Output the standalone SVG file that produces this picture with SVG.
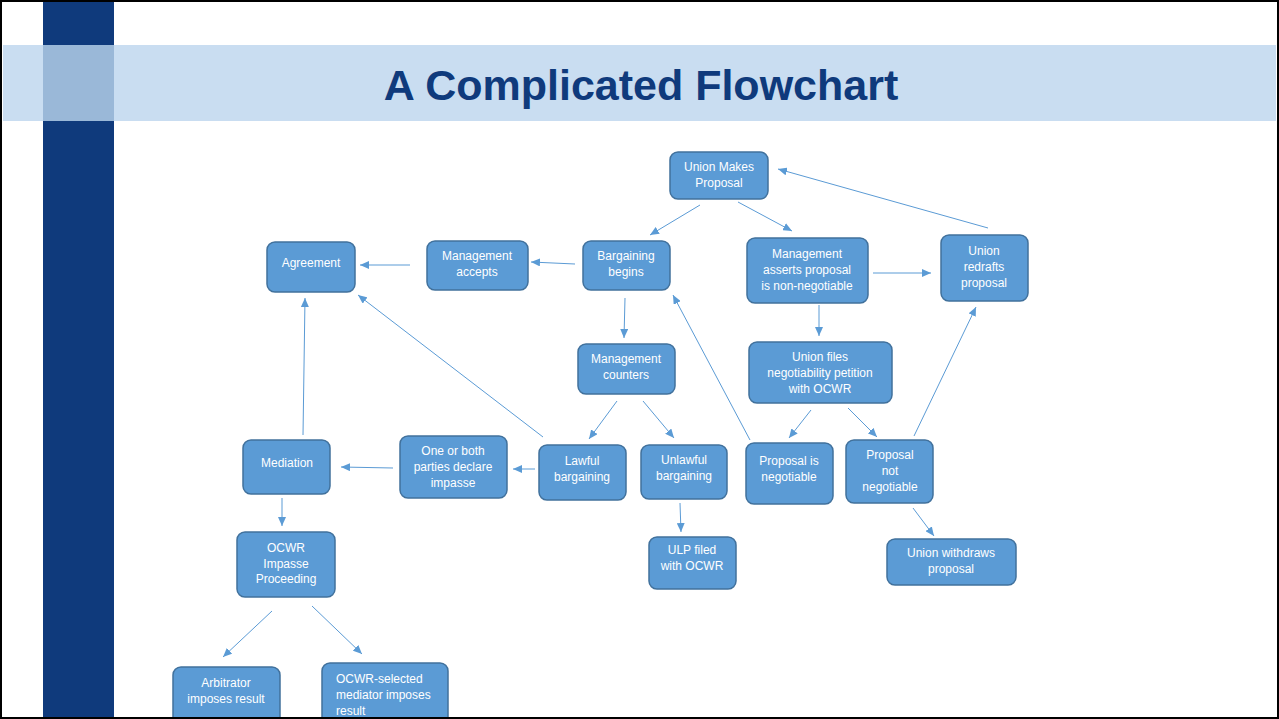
<svg xmlns="http://www.w3.org/2000/svg" width="1279" height="719" viewBox="0 0 1279 719">
<defs>
<marker id="ah" markerUnits="userSpaceOnUse" markerWidth="10" markerHeight="8" refX="9" refY="4" orient="auto">
<path d="M0,0 L9,4 L0,8 Z" fill="#5b9bd5"/>
</marker>
<style>
.n{fill:#5b9bd5;stroke:#41719c;stroke-width:1.5}
.t{font-family:"Liberation Sans",Arial,sans-serif;font-size:12px;fill:#ffffff;text-anchor:middle}
.tl{font-family:"Liberation Sans",Arial,sans-serif;font-size:12px;fill:#ffffff}
.c line{stroke:#5b9bd5;stroke-width:1;marker-end:url(#ah)}
</style>
</defs>
<rect x="0" y="0" width="1279" height="719" fill="#ffffff"/>
<rect x="3" y="45" width="1273" height="76" fill="#c9ddf1"/>
<rect x="43" y="2" width="71" height="715" fill="#0f3a7c"/>
<rect x="43" y="45" width="71" height="76" fill="#9ab8d8"/>
<text x="641" y="100" font-family="Liberation Sans,Arial,sans-serif" font-size="43" font-weight="bold" fill="#0f3a7c" text-anchor="middle">A Complicated Flowchart</text>

<g class="c" id="connectors">
<line x1="700" y1="205" x2="650" y2="235"/>
<line x1="738" y1="202" x2="792" y2="231"/>
<line x1="988" y1="228" x2="778" y2="169"/>
<line x1="873" y1="273" x2="931" y2="273"/>
<line x1="575" y1="264" x2="531" y2="262"/>
<line x1="410" y1="265" x2="360" y2="265"/>
<line x1="625" y1="298" x2="624" y2="338"/>
<line x1="819" y1="305" x2="819" y2="336"/>
<line x1="811" y1="410" x2="789" y2="438"/>
<line x1="848" y1="408" x2="877" y2="437"/>
<line x1="914" y1="436" x2="976" y2="307"/>
<line x1="750" y1="440" x2="673" y2="295"/>
<line x1="913" y1="508" x2="934" y2="536"/>
<line x1="617" y1="401" x2="589" y2="439"/>
<line x1="643" y1="401" x2="674" y2="438"/>
<line x1="543" y1="437" x2="358" y2="295"/>
<line x1="303" y1="435" x2="305" y2="298"/>
<line x1="535" y1="469" x2="513" y2="469"/>
<line x1="393" y1="468" x2="341" y2="467"/>
<line x1="282" y1="498" x2="282" y2="526"/>
<line x1="272" y1="611" x2="223" y2="657"/>
<line x1="312" y1="606" x2="362" y2="654"/>
<line x1="680" y1="503" x2="681" y2="532"/>
</g>

<g id="union-makes"><rect class="n" x="670" y="152" width="98" height="47" rx="8"/><text class="t" x="719" y="171">Union Makes</text><text class="t" x="719" y="187">Proposal</text></g>
<g id="agreement"><rect class="n" x="267" y="242" width="88" height="50" rx="8"/><text class="t" x="311" y="267">Agreement</text></g>
<g id="mgmt-accepts"><rect class="n" x="427" y="241" width="101" height="49" rx="8"/><text class="t" x="477" y="260">Management</text><text class="t" x="477" y="276">accepts</text></g>
<g id="bargaining-begins"><rect class="n" x="583" y="241" width="87" height="49" rx="8"/><text class="t" x="626" y="260">Bargaining</text><text class="t" x="626" y="276">begins</text></g>
<g id="mgmt-asserts"><rect class="n" x="747" y="238" width="121" height="65" rx="8"/><text class="t" x="807" y="258">Management</text><text class="t" x="807" y="274">asserts proposal</text><text class="t" x="807" y="290">is non-negotiable</text></g>
<g id="union-redrafts"><rect class="n" x="941" y="235" width="87" height="66" rx="8"/><text class="t" x="984" y="255">Union</text><text class="t" x="984" y="271">redrafts</text><text class="t" x="984" y="287">proposal</text></g>
<g id="mgmt-counters"><rect class="n" x="578" y="344" width="97" height="50" rx="8"/><text class="t" x="626" y="363">Management</text><text class="t" x="626" y="379">counters</text></g>
<g id="union-files"><rect class="n" x="749" y="342" width="143" height="61" rx="8"/><text class="t" x="820" y="361">Union files</text><text class="t" x="820" y="377">negotiability petition</text><text class="t" x="820" y="393">with OCWR</text></g>
<g id="impasse"><rect class="n" x="400" y="436" width="107" height="62" rx="8"/><text class="t" x="453" y="455">One or both</text><text class="t" x="453" y="471">parties declare</text><text class="t" x="453" y="487">impasse</text></g>
<g id="lawful"><rect class="n" x="539" y="445" width="87" height="55" rx="8"/><text class="t" x="582" y="465">Lawful</text><text class="t" x="582" y="481">bargaining</text></g>
<g id="unlawful"><rect class="n" x="641" y="445" width="86" height="54" rx="8"/><text class="t" x="684" y="464">Unlawful</text><text class="t" x="684" y="480">bargaining</text></g>
<g id="prop-negotiable"><rect class="n" x="746" y="443" width="87" height="61" rx="8"/><text class="t" x="789" y="465">Proposal is</text><text class="t" x="789" y="481">negotiable</text></g>
<g id="prop-not-negotiable"><rect class="n" x="846" y="440" width="87" height="63" rx="8"/><text class="t" x="890" y="459">Proposal</text><text class="t" x="890" y="475">not</text><text class="t" x="890" y="491">negotiable</text></g>
<g id="mediation"><rect class="n" x="243" y="440" width="87" height="54" rx="8"/><text class="t" x="287" y="467">Mediation</text></g>
<g id="ocwr-impasse"><rect class="n" x="237" y="532" width="98" height="65" rx="8"/><text class="t" x="286" y="552">OCWR</text><text class="t" x="286" y="568">Impasse</text><text class="t" x="286" y="583">Proceeding</text></g>
<g id="ulp"><rect class="n" x="649" y="537" width="87" height="52" rx="8"/><text class="t" x="692" y="554">ULP filed</text><text class="t" x="692" y="570">with OCWR</text></g>
<g id="union-withdraws"><rect class="n" x="887" y="539" width="129" height="46" rx="8"/><text class="t" x="951" y="557">Union withdraws</text><text class="t" x="951" y="573">proposal</text></g>
<g id="arbitrator"><rect class="n" x="173" y="667" width="107" height="62" rx="8"/><text class="t" x="226" y="687">Arbitrator</text><text class="t" x="226" y="703">imposes result</text></g>
<g id="ocwr-mediator"><rect class="n" x="322" y="663" width="126" height="66" rx="8"/><text class="tl" x="336" y="683">OCWR-selected</text><text class="tl" x="336" y="699">mediator imposes</text><text class="tl" x="336" y="715">result</text></g>

<rect x="1" y="1" width="1277" height="717" fill="none" stroke="#000000" stroke-width="2"/>
</svg>
